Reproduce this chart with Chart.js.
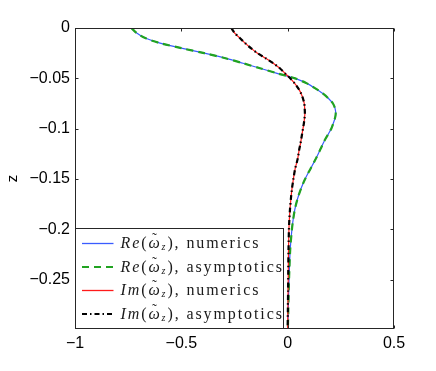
<!DOCTYPE html>
<html>
<head>
<meta charset="utf-8">
<script src="https://cdn.jsdelivr.net/npm/chart.js@4"></script>
<style>
  html, body { margin: 0; padding: 0; background: #fff; }
  #wrap { width: 436px; height: 371px; }
</style>
</head>
<body>
<div id="wrap"><canvas id="chart"></canvas></div>
<script>
// depth z (vertical axis)
const zValues = [0, -0.005, -0.01, -0.015, -0.02, -0.025, -0.03, -0.035, -0.04, -0.045,
  -0.05, -0.055, -0.06, -0.065, -0.07, -0.075, -0.08, -0.085, -0.09, -0.095,
  -0.1, -0.105, -0.11, -0.115, -0.12, -0.13, -0.14, -0.15, -0.16, -0.17,
  -0.18, -0.19, -0.2, -0.22, -0.24, -0.26, -0.28, -0.299];

const reNumerics = [-0.735, -0.71, -0.67, -0.6, -0.5, -0.392, -0.293, -0.21, -0.13, -0.05,
  0.035, 0.09, 0.13, 0.165, 0.192, 0.213, 0.223, 0.226, 0.222, 0.214,
  0.205, 0.192, 0.178, 0.166, 0.155, 0.132, 0.107, 0.082, 0.062, 0.046,
  0.034, 0.026, 0.02, 0.012, 0.008, 0.005, 0.003, 0.001];
const reAsymptotics = [-0.735, -0.71, -0.67, -0.6, -0.5, -0.392, -0.293, -0.21, -0.13, -0.05,
  0.035, 0.09, 0.13, 0.165, 0.192, 0.213, 0.223, 0.226, 0.222, 0.214,
  0.205, 0.192, 0.178, 0.166, 0.155, 0.132, 0.107, 0.082, 0.062, 0.046,
  0.034, 0.026, 0.02, 0.012, 0.008, 0.005, 0.003, 0.001];
const imNumerics = [-0.265, -0.249, -0.225, -0.2, -0.173, -0.142, -0.104, -0.068, -0.037, -0.013,
  0.012, 0.033, 0.05, 0.063, 0.072, 0.078, 0.08, 0.081, 0.079, 0.076,
  0.072, 0.068, 0.064, 0.06, 0.055, 0.047, 0.035, 0.027, 0.02, 0.015,
  0.011, 0.008, 0.006, 0.004, 0.003, 0.002, 0.001, 0];
const imAsymptotics = [-0.265, -0.249, -0.225, -0.2, -0.173, -0.142, -0.104, -0.068, -0.037, -0.013,
  0.012, 0.033, 0.05, 0.063, 0.072, 0.078, 0.08, 0.081, 0.079, 0.076,
  0.072, 0.068, 0.064, 0.06, 0.055, 0.047, 0.035, 0.027, 0.02, 0.015,
  0.011, 0.008, 0.006, 0.004, 0.003, 0.002, 0.001, 0];

const xTicks = [-1, -0.5, 0, 0.5];
const zTicks = [0, -0.05, -0.1, -0.15, -0.2, -0.25];
// legend entries: [part, method]
const legendEntries = [['Re', 'numerics'], ['Re', 'asymptotics'], ['Im', 'numerics'], ['Im', 'asymptotics']];

function toPoints(xs) {
  return xs.map((v, i) => ({ x: v, y: zValues[i] }));
}

function fmtTick(v) {
  if (Math.abs(v) < 1e-9) return '0';
  return String(v).replace('-', '\u2212');
}

const styles = [
  { color: '#3a5cff', width: 1.2, dash: [] },
  { color: '#21a321', width: 2.2, dash: [7, 5] },
  { color: '#ff1a1a', width: 1.2, dash: [] },
  { color: '#000000', width: 2.2, dash: [5, 3, 1.5, 3] }
];

const series = [reNumerics, reAsymptotics, imNumerics, imAsymptotics];

const datasets = series.map((vals, i) => ({
  label: legendEntries[i][0] + '(\u03C9\u0303z), ' + legendEntries[i][1],
  data: toPoints(vals),
  showLine: true,
  borderColor: styles[i].color,
  borderWidth: styles[i].width,
  borderDash: styles[i].dash,
  pointRadius: 0,
  tension: 0.3,
  fill: false,
  order: 4 - i
}));

const SERIF = '"Liberation Serif", "Times New Roman", serif';

const framePlugin = {
  id: 'frame',
  afterDatasetsDraw(chart) {
    const { ctx, chartArea: a, scales } = chart;
    const L = Math.round(a.left) + 0.5, R = Math.round(a.right) - 0.5;
    const T = Math.round(a.top) + 0.5, B = Math.round(a.bottom) - 0.5;
    ctx.save();
    ctx.strokeStyle = '#262626';
    ctx.lineWidth = 1;
    ctx.setLineDash([]);
    ctx.strokeRect(L, T, R - L, B - T);
    ctx.beginPath();
    xTicks.forEach(v => {
      const px = Math.round(scales.x.getPixelForValue(v)) + 0.5;
      ctx.moveTo(px, B); ctx.lineTo(px, B - 3);
      ctx.moveTo(px, T); ctx.lineTo(px, T + 3);
    });
    zTicks.forEach(v => {
      const py = Math.round(scales.y.getPixelForValue(v)) + 0.5;
      ctx.moveTo(L, py); ctx.lineTo(L + 3, py);
      ctx.moveTo(R, py); ctx.lineTo(R - 3, py);
    });
    ctx.stroke();

    // legend box (bottom-left, inside the axes)
    const bw = 208, bh = 100;
    const bx = L, by = B - bh;
    ctx.fillStyle = '#fff';
    ctx.fillRect(bx, by, bw, bh);
    ctx.strokeStyle = '#262626';
    ctx.strokeRect(bx, by, bw, bh);

    const hasLS = 'letterSpacing' in ctx;
    legendEntries.forEach((entry, i) => {
      const cy = Math.round(by + 14.5 + i * 23.5) + 0.5;
      const st = styles[i];
      ctx.save();
      ctx.strokeStyle = st.color;
      ctx.lineWidth = st.width < 2 ? 1.3 : 2;
      ctx.setLineDash(st.dash);
      ctx.beginPath();
      const ly = st.width < 2 ? cy : cy - 0.5;
      ctx.moveTo(bx + 6.5, ly);
      ctx.lineTo(bx + 38, ly);
      ctx.stroke();
      ctx.restore();

      let tx = bx + 45;
      ctx.fillStyle = '#1a1a1a';
      ctx.textBaseline = 'middle';
      ctx.textAlign = 'left';
      if (hasLS) ctx.letterSpacing = '1.9px';
      const parts = [
        { t: entry[0], f: 'italic 16px ' + SERIF, dy: 0 },
        { t: '(', f: '16px ' + SERIF, dy: 0 },
        { t: '\u03C9', f: 'italic 16px ' + SERIF, dy: 0, tilde: true },
        { t: 'z', f: 'italic 10px ' + SERIF, dy: 4 },
        { t: '), ' + entry[1], f: '16px ' + SERIF, dy: 0 }
      ];
      parts.forEach(p => {
        ctx.font = p.f;
        ctx.fillText(p.t, tx, cy + p.dy);
        const w = ctx.measureText(p.t).width;
        if (p.tilde) {
          ctx.save();
          if (hasLS) ctx.letterSpacing = '0px';
          ctx.font = '15px ' + SERIF;
          ctx.textAlign = 'center';
          ctx.fillText('\u02DC', tx + w / 2 - 0.5, cy - 4);
          ctx.restore();
        }
        tx += w;
      });
      if (hasLS) ctx.letterSpacing = '0px';
    });
    ctx.restore();
  }
};

new Chart(document.getElementById('chart'), {
  type: 'scatter',
  data: { datasets: datasets },
  options: {
    responsive: true,
    maintainAspectRatio: false,
    animation: false,
    layout: { padding: { top: 28, right: 42, bottom: 0, left: 0 } },
    plugins: { legend: { display: false }, tooltip: { enabled: false } },
    scales: {
      x: {
        type: 'linear',
        min: -1,
        max: 0.5,
        border: { display: false },
        grid: { display: false, drawTicks: false },
        afterBuildTicks: scale => { scale.ticks = xTicks.map(v => ({ value: v })); },
        afterFit: scale => { scale.height = 42; },
        ticks: {
          padding: 5,
          color: '#000',
          font: { family: '"Liberation Sans", Arial, sans-serif', size: 16 },
          callback: v => fmtTick(v)
        }
      },
      y: {
        type: 'linear',
        min: -0.299,
        max: 0,
        border: { display: false },
        grid: { display: false, drawTicks: false },
        afterBuildTicks: scale => { scale.ticks = zTicks.map(v => ({ value: v })); },
        afterFit: scale => { scale.width = 75; },
        title: {
          display: true,
          text: 'z',
          color: '#000',
          padding: { top: 4, bottom: 0 },
          font: { family: '"Liberation Sans", Arial, sans-serif', size: 15 }
        },
        ticks: {
          padding: 5,
          color: '#000',
          font: { family: '"Liberation Sans", Arial, sans-serif', size: 16 },
          callback: v => fmtTick(v)
        }
      }
    }
  },
  plugins: [framePlugin]
});
</script>
</body>
</html>
